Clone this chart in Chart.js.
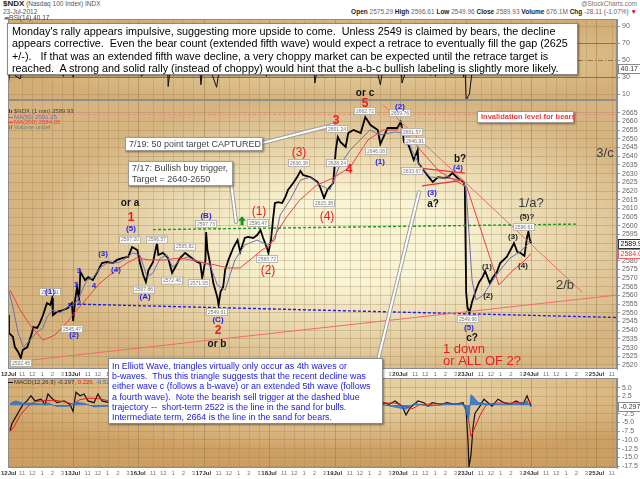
<!DOCTYPE html>
<html><head><meta charset="utf-8">
<script src="https://cdn.jsdelivr.net/npm/chart.js@4.4.1/dist/chart.umd.min.js"></script>
<style>
html,body{margin:0;padding:0;background:#fff;}
body{width:640px;height:479px;position:relative;overflow:hidden;font-family:"Liberation Sans",Arial,Helvetica,sans-serif;}
canvas{position:absolute;left:0;}
.t{position:absolute;white-space:pre;}
.box{position:absolute;background:#fff;border:1px solid #9a9a9a;box-shadow:1px 1px 2px rgba(0,0,0,0.45);white-space:pre;box-sizing:border-box;}
</style></head><body>
<div class="t" style="left:3px;top:0px;font-size:6.5px;color:#555;line-height:8px"><b style="font-size:8px;color:#222">$NDX</b> (Nasdaq 100 Index) INDX</div>
<div class="t" style="left:3px;top:8px;font-size:6.5px;color:#555;line-height:8px">23-Jul-2012</div>
<div class="t" style="right:3px;top:0px;font-size:6.5px;color:#777;line-height:8px">@StockCharts.com</div>
<div class="t" style="right:3px;top:8px;font-size:6.5px;color:#666;line-height:8px"><b style="color:#222">Open</b> 2575.29 <b style="color:#222">High</b> 2596.61 <b style="color:#222">Low</b> 2549.96 <b style="color:#222">Close</b> 2589.93 <b style="color:#222">Volume</b> 676.1M <b style="color:#222">Chg</b> -28.11 (-1.07%) <span style="color:#e00">▼</span></div>

<canvas id="rsi" width="640" height="81" style="top:19px"></canvas>
<canvas id="price" width="640" height="300" style="top:80px"></canvas>
<canvas id="macd" width="640" height="101" style="top:378px"></canvas>

<div class="t" style="left:4px;top:14px;font-size:6.5px;color:#444;line-height:7px"><span style="color:#777">▰</span>RSI(14) 40.17</div>

<div class="box" style="left:7px;top:23px;width:571px;height:52px;font-size:10.8px;line-height:12.4px;padding:1px 0 0 4px;color:#000;border-color:#888;">Monday's rally appears impulsive, suggesting more upside to come.  Unless 2549 is claimed by bears, the decline
appears corrective.  Even the bear count (extended fifth wave) would expect a retrace to eventually fill the gap (2625
+/-).   If that was an extended fifth wave decline, a very choppy market can be expected until the retrace target is
reached.  A strong and solid rally (instead of choppy) would hint that the a-b-c bullish labeling is slightly more likely.</div>

<div class="box" style="left:125px;top:137px;width:138px;height:14px;font-size:9px;line-height:12px;padding:0 0 0 3px;color:#444;">7/19: 50 point target CAPTURED</div>
<div class="box" style="left:128px;top:161px;width:105px;height:25px;font-size:9px;line-height:11px;padding:1px 0 0 3px;color:#444;">7/17: Bullish buy trigger,
Target = 2640-2650</div>
<div class="box" style="left:477px;top:111px;width:97px;height:12px;font-size:7.5px;font-weight:bold;line-height:10px;padding:0 0 0 3px;color:#f03a3a;">Invalidation level for bears</div>

<div class="box" style="left:108px;top:358px;width:275px;height:66px;font-size:8.9px;line-height:10.2px;padding:2px 0 0 3px;color:#2020e6;border-color:#888;">In Elliott Wave, triangles virtually only occur as 4th waves or
b-waves.  Thus this triangle suggests that the recent decline was
either wave c (follows a b-wave) or an extended 5th wave (follows
a fourth wave).  Note the bearish sell trigger at the dashed blue
trajectory --  short-term 2522 is the line in the sand for bulls.
Intermediate term, 2664 is the line in the sand for bears.</div>

<script>
const FF = '"Liberation Sans", Arial, sans-serif';
Chart.defaults.font.family = FF;

// ---------- x axis (trading days: 0 = 12 Jul open, 1 = 13 Jul open, ...) ----------
const X_MIN = 0.015, X_MAX = 9.313;
const dayLabels  = ['12Jul','13Jul','16Jul','17Jul','18Jul','19Jul','20Jul','23Jul','24Jul','25Jul'];
const hourLabels = ['11','12','1','2','3'];
const hourFrac   = [0.231, 0.385, 0.538, 0.692, 0.846];

// ---------- price (NDX 1-min) ----------
const priceDay = [0.02,0.03,0.09,0.12,0.17,0.21,0.24,0.31,0.38,0.40,0.46,0.50,0.55,0.61,0.66,0.69,0.70,0.76,0.86,0.93,0.99,
  1.01,1.04,1.07,1.10,1.12,1.19,1.24,1.31,1.38,1.45,1.53,1.62,1.68,1.77,1.85,1.91,1.99,
  2.03,2.08,2.12,2.16,2.23,2.29,2.31,2.38,2.46,2.52,2.57,2.64,2.72,2.80,2.90,2.95,2.98,
  3.03,3.04,3.06,3.09,3.15,3.21,3.23,3.26,3.30,3.33,3.38,3.46,3.52,3.56,3.63,3.68,3.76,3.82,3.87,3.91,3.97,
  3.99,4.03,4.06,4.09,4.14,4.20,4.25,4.29,4.37,4.43,4.48,4.52,4.63,4.74,4.78,4.84,4.89,4.98,
  5.02,5.05,5.09,5.17,5.21,5.29,5.40,5.47,5.55,5.66,5.70,5.81,5.89,5.96,
  6.01,6.04,6.06,6.13,6.21,6.27,6.28,6.36,6.44,6.50,6.58,6.67,6.73,6.80,6.88,6.97,6.99,
  7.01,7.03,7.06,7.10,7.16,7.21,7.26,7.30,7.37,7.42,7.48,7.53,7.63,7.71,7.74,7.79,7.84,7.90,7.94,7.96,7.98,8.00];
const priceVal = [2548.7,2538.4,2536.1,2530.3,2527.5,2524.0,2528.6,2530.3,2538.4,2541.8,2541.3,2544.1,2548.7,2555.6,2554.5,2558.5,2548.7,2550.5,2551.6,2552.8,2555.6,
  2545.3,2557.4,2564.8,2557.4,2573.5,2568.8,2570.5,2568.8,2573.5,2578.6,2579.2,2578.6,2580.4,2581.5,2582.1,2587.8,2586.1,
  2578.6,2571.7,2567.7,2574.6,2579.2,2590.1,2583.2,2584.4,2581.5,2573.0,2576.3,2581.5,2584.4,2582.1,2579.2,2578.6,2570.0,
  2580.4,2596.4,2586.1,2580.4,2567.1,2559.1,2554.5,2562.0,2564.8,2574.6,2580.4,2587.8,2591.8,2585.0,2593.0,2593.6,2593.0,2594.7,2597.6,2593.0,2587.2,
  2584.4,2591.8,2603.3,2613.1,2613.6,2613.1,2616.6,2620.6,2624.6,2628.0,2631.5,2629.2,2628.0,2625.2,2622.3,2615.9,2620.6,2624.6,
  2643.6,2651.0,2648.2,2645.3,2653.3,2655.1,2653.3,2662.5,2657.9,2655.1,2647.0,2656.2,2656.2,2656.2,
  2659.7,2655.1,2648.2,2646.4,2637.8,2643.6,2636.1,2632.1,2628.0,2625.2,2628.0,2627.5,2628.0,2630.3,2627.5,2625.2,2622.3,
  2561.9,2553.3,2550.0,2556.2,2563.1,2567.7,2570.5,2574.0,2567.1,2570.5,2573.5,2578.6,2582.1,2587.8,2590.1,2585.0,2584.4,2582.7,2593.6,2596.6,2592.4,2589.9];

const ma50Day = [0.015,0.09,0.17,0.25,0.35,0.46,0.55,0.61,0.70,0.81,0.92,1.01,1.08,1.15,1.22,1.31,1.42,1.53,1.62,1.73,1.92,2.03,2.14,2.23,2.34,2.44,2.53,2.64,2.75,2.95,
  3.10,3.21,3.33,3.48,3.63,3.82,3.97,4.09,4.17,4.32,4.48,4.63,4.78,4.93,5.08,5.24,5.39,5.54,5.69,5.92,6.08,6.18,6.30,6.46,6.69,6.96,7.01,7.10,7.16,7.27,7.37,7.53,7.68,7.83,8.00];
const ma50Val = [2564.8,2553.3,2538.4,2530.3,2534.3,2539.0,2541.3,2547.6,2551.6,2549.9,2553.3,2554.5,2557.4,2563.1,2568.8,2570.0,2575.8,2578.6,2578.6,2579.2,2584.4,2583.2,2570.5,2573.0,2581.5,2583.2,2576.3,2580.4,2582.1,2579.2,
  2577.5,2566.0,2563.1,2580.4,2589.0,2591.8,2589.0,2591.8,2606.2,2614.8,2626.3,2628.0,2623.4,2620.6,2634.9,2643.6,2649.3,2655.1,2652.2,2653.9,2653.3,2643.6,2634.9,2628.0,2627.5,2626.3,2620.6,2568.8,2557.4,2560.2,2566.0,2574.6,2581.5,2585.0,2591.25];

const ma200Day = [0.05,0.20,0.35,0.55,0.73,0.92,1.04,1.16,1.30,1.42,1.57,1.68,1.83,1.98,2.18,2.41,2.64,2.95,3.18,3.36,3.56,3.71,3.89,4.02,4.12,4.27,4.47,4.73,4.98,5.24,5.51,5.74,5.96,6.00,6.31,6.61,7.02,7.51,7.73,7.88,8.00];
const ma200Val = [2563.0,2551.6,2543.0,2534.3,2537.2,2544.7,2550.5,2555.6,2561.9,2567.1,2571.7,2574.6,2578.6,2581.5,2580.4,2580.4,2581.5,2579.2,2577.5,2575.8,2575.8,2580.4,2586.1,2589.0,2596.4,2605.1,2614.8,2623.4,2627.5,2633.8,2649.3,2655.1,2655.1,2657.9,2643.6,2630.9,2622.3,2566.0,2574.6,2579.2,2584.05];

const priceTicks = [2665,2660,2655,2650,2645,2640,2635,2630,2625,2620,2615,2610,2605,2600,2595,2590,2585,2580,2575,2570,2565,2560,2555,2550,2545,2540,2535,2530,2525,2520];

// drawn lines (day, price)
const invalidLine  = [[X_MIN,2664],[X_MAX,2664]];
const greenLine    = [[2.23,2597.8],[8.72,2601.0]];
const blueLine     = [[0.931,2555.1],[9.313,2547.3]];
const lowTrend     = [[0.092,2521.7],[9.313,2560.2]];
const highTrend    = [[5.740,2669.4],[8.779,2561.9]];
const triUpper     = [[6.305,2633.2],[6.992,2630.3]];
const triLower     = [[6.336,2622.9],[6.962,2626.3]];

// ---------- RSI(14) ----------
const rsiDay = [0.00,0.02,0.05,0.12,0.20,0.28,0.40,0.55,0.66,0.70,0.78,0.86,0.92,1.00,1.01,1.05,1.12,1.20,1.35,1.50,1.65,1.90,2.04,2.05,2.12,2.20,2.29,2.45,2.46,2.50,2.60,2.80,2.94,2.96,
  3.00,3.04,3.10,3.20,3.25,3.40,3.60,3.80,3.95,3.96,4.00,4.08,4.30,4.50,4.68,4.70,4.75,4.81,4.90,5.02,5.20,5.45,5.55,5.62,5.67,5.70,5.78,5.90,
  6.00,6.03,6.10,6.20,6.25,6.37,6.45,6.47,6.52,6.54,6.60,6.75,6.96,6.97,6.99,7.01,7.06,7.12,7.30,7.37,7.50,7.72,7.88,7.96,8.00];
const rsiVal = [48,22,40,32,28,52,58,66,72,36,55,31,55,45,30,65,74,55,62,58,60,68,40,31,36,62,70,50,19,45,55,50,45,21,
  50,78,40,18,45,68,60,65,40,31,45,80,70,65,45,23,45,32,55,85,62,70,38,45,31,21,60,55,
  65,23,40,33,45,33,40,32,50,31,50,52,40,30,45,3,10,50,68,42,62,70,45,72,40.17];
const rsiTicks = [90,70,50,30,10];

// ---------- MACD(12,26,9) ----------
const macdDay = [0.046,0.076,0.137,0.244,0.305,0.366,0.427,0.519,0.580,0.626,0.672,0.763,0.870,0.962,1.008,1.053,1.115,1.176,1.237,1.328,1.389,1.450,1.557,
  1.88,2.49,3.02,3.56,4.09,4.63,5.08,5.54,5.740,5.832,5.924,6.031,6.092,6.153,6.214,6.275,6.366,6.427,6.489,6.626,6.718,6.840,6.962,
  7.008,7.038,7.053,7.084,7.115,7.145,7.221,7.282,7.344,7.405,7.496,7.588,7.679,7.771,7.878,7.939,8.000];
const macdVal = [-7.3,-5.3,-3.3,0.2,1.2,2.7,1.2,1.7,0.2,3.2,2.2,0.7,1.2,0.2,-1.8,3.7,2.7,3.2,1.2,0.7,3.2,1.2,0.7,
  0.8,-0.5,1.5,0.5,2.5,0.5,2.5,0.0,0.7,0.2,1.2,-0.3,-2.8,-0.8,0.2,1.2,0.7,-0.3,0.7,0.2,0.7,0.2,0.7,
  -1.3,-10.3,-17.8,-14.3,-6.3,-2.3,-0.3,1.7,0.7,-0.3,1.7,0.7,0.2,1.2,0.2,2.7,-0.297];
const sigDay = [0.046,0.107,0.198,0.320,0.427,0.580,0.733,0.885,1.008,1.115,1.267,1.420,1.557,2.49,3.56,4.63,5.54,5.740,5.924,6.077,6.183,6.305,6.458,6.687,6.962,
  7.038,7.084,7.130,7.221,7.313,7.450,7.679,7.908,7.970,8.000];
const sigVal = [-7.6,-6.2,-3.0,-0.3,1.0,1.3,1.4,0.9,0.3,1.6,2.0,1.8,1.2,0.0,0.6,0.8,0.4,0.6,0.6,-0.4,-1.1,0.2,0.3,0.4,0.4,
  -3.0,-9.0,-7.0,-3.0,0.0,0.6,0.6,0.8,1.4,0.226];
const histDay = [0.046,0.076,0.137,0.244,0.366,0.519,0.626,0.763,0.962,1.053,1.176,1.328,1.450,1.557,5.740,6.092,6.214,6.427,6.718,6.962,
  7.008,7.038,7.053,7.084,7.115,7.190,7.344,7.588,7.771,7.939,8.000];
const histVal = [0.3,0.8,1.2,0.5,0.6,0.3,0.6,-0.4,-0.3,0.8,0.5,-0.5,-0.4,-0.3,0.1,-1.2,0.5,-0.3,0.2,0.2,
  -1.5,-4.0,-3.5,3.0,2.5,0.8,0.3,0.1,0.4,0.9,-0.523];
const macdTicks = [5,2.5,0,-2.5,-5,-7.5,-10,-12.5,-15,-17.5];

// ---------- annotations ----------
const waveLabels = [
  ['or a',1.878,2613.1,'or'],['1',1.893,2604.5,'redB'],['(5)',1.893,2598.2,'blue'],
  ['2',3.221,2539.5,'redB'],['or b',3.206,2532.1,'or'],['(C)',3.221,2545.9,'blue'],
  ['(A)',2.107,2559.1,'blue'],['(B)',3.038,2605.6,'blue'],
  ['(1)',3.847,2607.9,'red'],['(2)',3.985,2574.0,'red'],['(3)',4.458,2641.8,'red'],['(4)',4.885,2605.1,'red'],
  ['3',5.023,2660.2,'redB'],['4',5.221,2632.1,'redB'],['5',5.466,2670.0,'redB'],['or c',5.466,2676.3,'or'],
  ['3',1.099,2573.9,'blue'],['1',1.053,2565.9,'blue'],['2',1.099,2555.6,'blue'],['4',1.328,2565.4,'blue'],
  ['(3)',1.466,2583.8,'blue'],['(4)',1.664,2574.6,'blue'],['(1)',0.656,2561.9,'blue'],['(2)',1.023,2537.2,'blue'],
  ['(1)',5.695,2636.7,'blue'],['(2)',6.0,2668.3,'blue'],['(3)',6.489,2618.9,'blue'],['(4)',6.885,2633.2,'blue'],['(5)',7.053,2541.2,'blue'],
  ['b?',6.916,2638.4,'or'],['a?',6.504,2612.5,'or'],['c?',7.099,2535.1,'or'],
  ['(1)',7.328,2576.3,'blk'],['(2)',7.344,2559.7,'blk'],['(3)',7.725,2593.6,'blk'],['(4)',7.878,2576.9,'blk'],['(5)?',7.939,2605.1,'blk'],
  ['1/a?',8.0,2613.1,'big'],['3/c',9.13,2641.8,'big'],['2/b',8.519,2565.9,'big'],
  ['1 down',6.656,2529.0,'down'],['or ALL OF 2?',6.656,2521.8,'down']
];
const priceTags = [
  ['2522.45',0.214,2521.2],['2561.11',0.656,2561.9],['2545.47',0.992,2540.6],['2597.20',1.878,2592.0],['2567.86',2.092,2563.3],
  ['2596.57',2.290,2592.0],['2572.46',2.519,2568.5],['2585.82',2.718,2588.0],['2571.05',2.931,2567.1],['2597.73',3.038,2601.0],
  ['2549.61',3.206,2550.5],['2596.47',3.832,2601.6],['2583.72',3.969,2580.9],['2630.38',4.458,2636.1],['2615.38',4.840,2613.1],
  ['2628.24',5.038,2636.1],['2651.24',5.038,2655.6],['2662.72',5.466,2666.0],['2646.08',5.634,2643.0],['2659.76',6.000,2664.8],
  ['2651.57',6.183,2653.9],['2646.91',6.229,2648.7],['2633.67',6.183,2631.5],['2549.96',7.038,2546.4],['2596.61',7.893,2599.3]
];
const pointers = [[5.664,2522.9,6.290,2619.3],[3.893,2647.6,4.977,2657.9],[3.420,2624.6,3.496,2602.2]];
const buyArrow = [3.588,2600.3];

const STY = {
  red:{font:'12px '+FF,color:'#ee1c1c'}, redB:{font:'bold 12px '+FF,color:'#ee1c1c'},
  blue:{font:'bold 8px '+FF,color:'#2222ee'}, blk:{font:'bold 8px '+FF,color:'#222'},
  or:{font:'bold 10px '+FF,color:'#111'}, big:{font:'13px '+FF,color:'#3a3a3a'},
  down:{font:'13px '+FF,color:'#ee1c1c',align:'left'}
};

// ---------- helpers ----------
const pts = (xs, ys) => xs.map((x,i)=>({x:x, y:ys[i]}));
const seg = arr => arr.map(p=>({x:p[0], y:p[1]}));
const xTicks = [];
dayLabels.forEach((lab,i)=>{ xTicks.push({v:i,t:lab,major:true}); hourLabels.forEach((h,j)=>xTicks.push({v:i+hourFrac[j],t:h,major:false})); });

function panelPlugin(o){
  return {
    id:'panel'+o.name,
    beforeDraw(chart){
      const {ctx, chartArea:a} = chart;
      const w=a.right-a.left, h=a.bottom-a.top;
      ctx.save();
      ctx.beginPath(); ctx.rect(a.left,a.top,w,h); ctx.clip();
      ctx.fillStyle=o.outer; ctx.fillRect(a.left,a.top,w,h);
      ctx.translate(a.left+w*o.cx, a.top+h*o.cy);
      ctx.scale(w/2, h/2);
      const g=ctx.createRadialGradient(0,0,0,0,0,o.r);
      g.addColorStop(0,o.inner); g.addColorStop(0.3,o.inner); g.addColorStop(1,o.outer);
      ctx.fillStyle=g; ctx.fillRect(-3,-3,6,6);
      ctx.restore();
    },
    beforeDatasetsDraw(chart){
      const {ctx, chartArea:a, scales:{x}} = chart;
      ctx.save(); ctx.lineWidth=1;
      xTicks.forEach(t=>{
        const px=Math.round(x.getPixelForValue(t.v))+0.5;
        if(px<a.left||px>a.right) return;
        ctx.strokeStyle = t.major ? 'rgba(140,110,70,0.42)' : 'rgba(160,130,85,0.30)';
        ctx.beginPath(); ctx.moveTo(px,a.top); ctx.lineTo(px,a.bottom); ctx.stroke();
      });
      ctx.restore();
    },
    afterDraw(chart){
      const {ctx, chartArea:a, scales:{x}} = chart;
      ctx.save();
      ctx.strokeStyle='#8d8d8d'; ctx.lineWidth=1;
      ctx.strokeRect(Math.round(a.left)+0.5, Math.round(a.top)+0.5, Math.round(a.right-a.left)-1, Math.round(a.bottom-a.top)-1);
      if(o.labels){
        ctx.textBaseline='middle';
        xTicks.forEach(t=>{
          const px=x.getPixelForValue(t.v);
          if(px>a.right+2) return;
          ctx.font = t.major ? 'bold 6px '+FF : '6px '+FF;
          ctx.fillStyle = t.major ? '#333' : '#777';
          const w=ctx.measureText(t.t).width;
          let lx = px - w/2; if(lx<1) lx=1;
          ctx.textAlign='left';
          ctx.fillText(t.t, lx, a.bottom+5.5);
        });
      }
      ctx.restore();
    }
  };
}

function valueBox(ctx, x, y, text, border, color){
  ctx.font='7px '+FF;
  const w=Math.ceil(ctx.measureText(text).width)+4;
  const top=Math.round(y-4.5)+0.5;
  ctx.fillStyle='#fff'; ctx.fillRect(x, top, w, 9);
  ctx.strokeStyle=border; ctx.lineWidth=1; ctx.strokeRect(x+0.5, top, w, 9);
  ctx.fillStyle=color; ctx.textAlign='left'; ctx.textBaseline='middle';
  ctx.fillText(text, x+2.5, top+4.8);
}

function yAxis(min, max, ticks, fmt, gridColor){
  return {
    type:'linear', position:'right', min:min, max:max,
    afterFit(s){ s.width=23; s.paddingTop=0; s.paddingBottom=0; },
    afterBuildTicks(s){ s.ticks = ticks.map(v=>({value:v})); },
    ticks:{font:{size:7,family:FF}, color:'#666', padding:2, autoSkip:false, maxRotation:0, callback:fmt},
    grid:{color:gridColor, tickLength:3, tickColor:'#9a9a9a', drawTicks:true},
    border:{display:true, color:'#8d8d8d'}
  };
}
const xAxis = {type:'linear', min:X_MIN, max:X_MAX, display:false};
const baseOpts = (pad) => ({responsive:false, animation:false, events:[], layout:{padding:pad},
  plugins:{legend:{display:false}, tooltip:{enabled:false}}});
const lineDs = (data, color, width, extra) => Object.assign({data:data, borderColor:color, borderWidth:width, pointRadius:0, tension:0, fill:false}, extra||{});
const GRID = 'rgba(155,125,80,0.32)';

// ---------- RSI chart ----------
new Chart(document.getElementById('rsi'), {
  type:'line',
  data:{datasets:[lineDs(pts(rsiDay,rsiVal),'#111',1)]},
  options:Object.assign(baseOpts({left:8,top:0,bottom:0,right:0}), {
    scales:{x:xAxis, y:yAxis(2.96, 98.8, rsiTicks, v=>String(v),
      c=> (c.tick && (c.tick.value===70||c.tick.value===30)) ? 'rgba(115,90,55,0.75)' : (c.tick && c.tick.value===50 ? 'rgba(0,0,0,0)' : GRID))}
  }),
  plugins:[panelPlugin({name:'r',inner:'#e2c898',outer:'#d2ad75',cx:0.55,cy:0.5,r:1.2,labels:false}),
    {id:'rsiExtra',
     beforeDatasetsDraw(chart){
       const {ctx, chartArea:a, scales:{y}} = chart;
       ctx.save(); ctx.strokeStyle='rgba(115,90,55,0.7)'; ctx.setLineDash([5,2,1,2]); ctx.lineWidth=1;
       const py=Math.round(y.getPixelForValue(50))+0.5;
       ctx.beginPath(); ctx.moveTo(a.left,py); ctx.lineTo(a.right,py); ctx.stroke(); ctx.restore();
     },
     afterDraw(chart){
       const {ctx, chartArea:a, scales:{y}} = chart;
       ctx.save(); valueBox(ctx, a.right+1, y.getPixelForValue(40.17), '40.17', '#888', '#333'); ctx.restore();
     }}]
});

// ---------- Price chart ----------
new Chart(document.getElementById('price'), {
  type:'line',
  data:{datasets:[
    lineDs(seg(lowTrend),'#f26a6a',1),
    lineDs(seg(invalidLine),'#f08a80',1,{borderDash:[3,2]}),
    lineDs(seg(blueLine),'#1c1cf0',1.4,{borderDash:[3,2]}),
    lineDs(seg(greenLine),'#1a9a1a',1.4,{borderDash:[3,2]}),
    lineDs(seg(highTrend),'#f26a6a',1),
    lineDs(seg(triUpper),'#f03030',1.2),
    lineDs(seg(triLower),'#f03030',1.2),
    lineDs(pts(ma200Day,ma200Val),'#f04040',1),
    lineDs(pts(ma50Day,ma50Val),'#6e6eb8',1),
    lineDs(pts(priceDay,priceVal),'#000',1.8)
  ]},
  options:Object.assign(baseOpts({left:8,top:20,bottom:11,right:0}), {
    scales:{x:xAxis, y:yAxis(2517.7, 2672.3, priceTicks, v=>String(v), GRID)}
  }),
  plugins:[panelPlugin({name:'p',inner:'#f9f4d4',outer:'#d5b47f',cx:0.57,cy:0.52,r:1.08,labels:true}),
    {id:'priceExtra',
     afterDraw(chart){
       const {ctx, chartArea:a, scales:{x,y}} = chart;
       const X=v=>x.getPixelForValue(v), Y=v=>y.getPixelForValue(v);
       ctx.save();
       pointers.forEach(p=>{
         ctx.lineCap='round';
         ctx.strokeStyle='#9d9d9d'; ctx.lineWidth=4;
         ctx.beginPath(); ctx.moveTo(X(p[0]),Y(p[1])); ctx.lineTo(X(p[2]),Y(p[3])); ctx.stroke();
         ctx.strokeStyle='#fff'; ctx.lineWidth=2;
         ctx.beginPath(); ctx.moveTo(X(p[0]),Y(p[1])); ctx.lineTo(X(p[2]),Y(p[3])); ctx.stroke();
       });
       const ax=X(buyArrow[0]), ay=Y(buyArrow[1]);
       ctx.fillStyle='#18951a';
       ctx.beginPath(); ctx.moveTo(ax,ay-9); ctx.lineTo(ax+4,ay-4.5); ctx.lineTo(ax+1.5,ay-4.5); ctx.lineTo(ax+1.5,ay);
       ctx.lineTo(ax-1.5,ay); ctx.lineTo(ax-1.5,ay-4.5); ctx.lineTo(ax-4,ay-4.5); ctx.closePath(); ctx.fill();
       priceTags.forEach(t=>{
         ctx.font='5px '+FF;
         const px=X(t[1]), py=Y(t[2]);
         const w=ctx.measureText(t[0]).width+3;
         ctx.fillStyle='rgba(255,255,255,0.92)'; ctx.fillRect(px-w/2, py-3.5, w, 7);
         ctx.strokeStyle='#aaa'; ctx.lineWidth=0.8; ctx.strokeRect(px-w/2, py-3.5, w, 7);
         ctx.fillStyle='#777'; ctx.textAlign='center'; ctx.textBaseline='middle';
         ctx.fillText(t[0], px, py+0.3);
       });
       waveLabels.forEach(l=>{
         const s=STY[l[3]];
         ctx.font=s.font; ctx.fillStyle=s.color; ctx.textAlign=s.align||'center'; ctx.textBaseline='middle';
         ctx.fillText(l[0], X(l[1]), Y(l[2]));
       });
       ctx.textAlign='left'; ctx.textBaseline='middle'; ctx.font='6px '+FF;
       ctx.fillStyle='#444'; ctx.fillRect(9,a.top+9,1,4); ctx.fillRect(11,a.top+10,1,3);
       ctx.fillText('$NDX (1 min) 2589.93', 14, a.top+11);
       ctx.fillStyle='#6e6eb8'; ctx.fillRect(8,a.top+17,5,1); ctx.fillText('MA(50) 2591.25', 14, a.top+17);
       ctx.fillStyle='#f04040'; ctx.fillRect(8,a.top+22,5,1); ctx.fillText('MA(200) 2584.05', 14, a.top+22);
       ctx.fillStyle='#777'; ctx.fillRect(9,a.top+26,1,3); ctx.fillRect(11,a.top+25,1,4);
       ctx.fillText('Volume undef', 14, a.top+27);
       valueBox(ctx, a.right+1, Y(2584.05), '2584.05', '#f06060', '#e03030');
       valueBox(ctx, a.right+1, Y(2589.93), '2589.93', '#333', '#000');
       ctx.restore();
     }}]
});

// ---------- MACD chart ----------
new Chart(document.getElementById('macd'), {
  type:'line',
  data:{datasets:[
    lineDs(pts(histDay,histVal),'#2a6fc8',0.8,{fill:'origin', backgroundColor:'rgba(42,111,200,0.85)'}),
    lineDs(pts(sigDay,sigVal),'#e02020',1),
    lineDs(pts(macdDay,macdVal),'#111',1.2)
  ]},
  options:Object.assign(baseOpts({left:8,top:0,bottom:11,right:0}), {
    scales:{x:xAxis, y:yAxis(-18.07, 7.79, macdTicks, v=>v.toFixed(1), GRID)}
  }),
  plugins:[panelPlugin({name:'m',inner:'#e6cf9f',outer:'#cd9f63',cx:0.55,cy:0.15,r:1.35,labels:true}),
    {id:'macdExtra',
     afterDraw(chart){
       const {ctx, chartArea:a, scales:{y}} = chart;
       ctx.save();
       ctx.textAlign='left'; ctx.textBaseline='middle'; ctx.font='6px '+FF;
       let xx=14; const yy=a.top+4;
       ctx.fillStyle='#111'; ctx.fillRect(8,yy,5,1);
       [['MACD(12,26,9) -0.297,','#333'],[' 0.226,','#e02020'],[' -0.523','#2a6fc8']].forEach(p=>{
         ctx.fillStyle=p[1]; ctx.fillText(p[0], xx, yy); xx+=ctx.measureText(p[0]).width;
       });
       valueBox(ctx, a.right+1, y.getPixelForValue(-0.297), '-0.297', '#888', '#333');
       ctx.restore();
     }}]
});
</script>
</body></html>
